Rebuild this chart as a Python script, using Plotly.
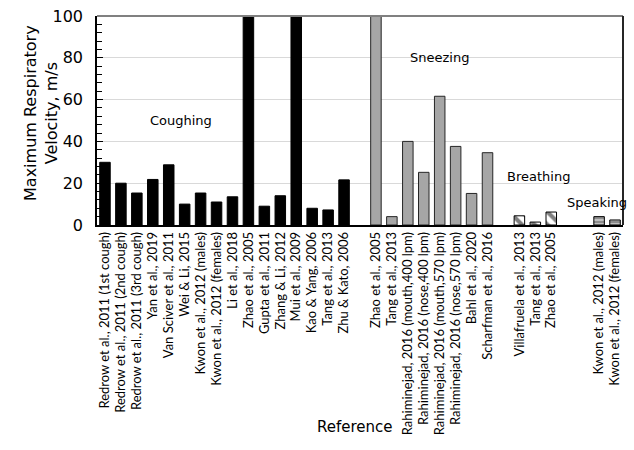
import plotly.graph_objects as go

# Maximum respiratory velocity reported in the literature, by activity
cough_labels = [
    "Redrow et al., 2011 (1st cough)", "Redrow et al., 2011 (2nd cough)",
    "Redrow et al., 2011 (3rd cough)", "Yan et al., 2019",
    "Van Sciver et al., 2011", "Wei & Li, 2015",
    "Kwon et al., 2012 (males)", "Kwon et al., 2012 (females)",
    "Li et al., 2018", "Zhao et al., 2005", "Gupta et al., 2011",
    "Zhang & Li, 2012", "Mui et al., 2009", "Kao & Yang, 2006",
    "Tang et al., 2013", "Zhu & Kato, 2006",
]
cough_values = [30, 20, 15.3, 21.8, 28.8, 10, 15.3, 11, 13.5, 100, 9, 14,
                100, 8, 7.2, 21.6]

sneeze_labels = [
    "Zhao et al., 2005", "Tang et al., 2013",
    "Rahiminejad, 2016 (mouth,400 lpm)", "Rahiminejad, 2016 (nose,400 lpm)",
    "Rahiminejad, 2016 (mouth,570 lpm)", "Rahiminejad, 2016 (nose,570 lpm)",
    "Bahl et al., 2020", "Scharfman et al., 2016",
]
sneeze_values = [100, 4, 40, 25.2, 61.6, 37.6, 15.1, 34.6]

breath_labels = ["Villafruela et al., 2013", "Tang et al., 2013",
                 "Zhao et al., 2005"]
breath_values = [4.4, 1.4, 6.2]

speak_labels = ["Kwon et al., 2012 (males)", "Kwon et al., 2012 (females)"]
speak_values = [4, 2.4]

# empty slots left before each group on the category axis
group_gaps = [0, 1, 1, 2]

groups = [
    dict(name="Coughing", labels=cough_labels, values=cough_values,
         marker=dict(color="#000000", line=dict(color="#000000", width=1))),
    dict(name="Sneezing", labels=sneeze_labels, values=sneeze_values,
         marker=dict(color="#a6a6a6", line=dict(color="#262626", width=1))),
    dict(name="Breathing", labels=breath_labels, values=breath_values,
         marker=dict(color="#ffffff", line=dict(color="#000000", width=1),
                     pattern=dict(shape="\\", fgcolor="#000000",
                                  bgcolor="#ffffff", size=9, solidity=0.45))),
    dict(name="Speaking", labels=speak_labels, values=speak_values,
         marker=dict(color="#bfbfbf", line=dict(color="#000000", width=1),
                     pattern=dict(shape="-", fgcolor="#404040",
                                  bgcolor="#bfbfbf", size=4, solidity=0.4))),
]

fig = go.Figure()
tickvals, ticktext = [], []
pos = 0
for g, gap in zip(groups, group_gaps):
    pos += gap
    xs = list(range(pos, pos + len(g["labels"])))
    pos += len(g["labels"])
    tickvals += xs
    ticktext += g["labels"]
    fig.add_trace(go.Bar(x=xs, y=g["values"], name=g["name"],
                         marker=g["marker"], width=0.66, showlegend=False))

# activity labels written inside the plot area
group_notes = [
    ("Coughing", 4.8, 50),
    ("Sneezing", 21.0, 80),
    ("Breathing", 27.2, 23),
    ("Speaking", 30.85, 11),
]
for text, gx, gy in group_notes:
    fig.add_annotation(x=gx, y=gy, text=text, showarrow=False,
                       font=dict(family="DejaVu Sans", size=13, color="#000000"))

# axis titles
fig.add_annotation(xref="paper", yref="paper", x=-0.1065, y=0.536,
                   text="Maximum Respiratory<br>Velocity, m/s", textangle=-90,
                   showarrow=False, xanchor="center", yanchor="middle",
                   font=dict(family="DejaVu Sans", size=16, color="#000000"))
fig.add_annotation(xref="paper", yref="paper", x=0.4905, y=-0.966,
                   text="Reference", showarrow=False,
                   xanchor="center", yanchor="middle",
                   font=dict(family="DejaVu Sans", size=15, color="#000000"))

# frame on top and right
fig.add_shape(type="line", xref="x domain", yref="y domain",
              x0=0, x1=1, y0=1, y1=1, line=dict(color="#808080", width=2))
fig.add_shape(type="line", xref="x domain", yref="y domain",
              x0=1, x1=1, y0=0, y1=1, line=dict(color="#262626", width=2))

fig.update_layout(
    width=634, height=450,
    margin=dict(l=97, r=11, t=16, b=225),
    paper_bgcolor="#ffffff", plot_bgcolor="#ffffff",
    bargap=0.3,
    font=dict(family="DejaVu Sans", color="#000000"),
)
fig.update_xaxes(
    automargin=False,
    range=[-0.5, pos - 0.5],
    tickmode="array", tickvals=tickvals, ticktext=ticktext,
    tickangle=-90, ticks="",
    tickfont=dict(family="Lato", size=13, color="#000000"),
    showline=True, linecolor="#000000", linewidth=1.5,
    showgrid=False, zeroline=False,
)
fig.update_yaxes(
    automargin=False,
    range=[0, 100], dtick=20,
    tickfont=dict(family="DejaVu Sans", size=16, color="#000000"),
    ticks="inside", ticklen=6, tickcolor="#000000",
    ticklabelstandoff=9,
    minor=dict(dtick=4, ticks="inside", ticklen=5, tickcolor="#000000",
               showgrid=False),
    showline=True, linecolor="#000000", linewidth=1.5,
    showgrid=True, gridcolor="#d9d9d9", gridwidth=1,
    zeroline=False,
)

fig.write_html("out.html")
